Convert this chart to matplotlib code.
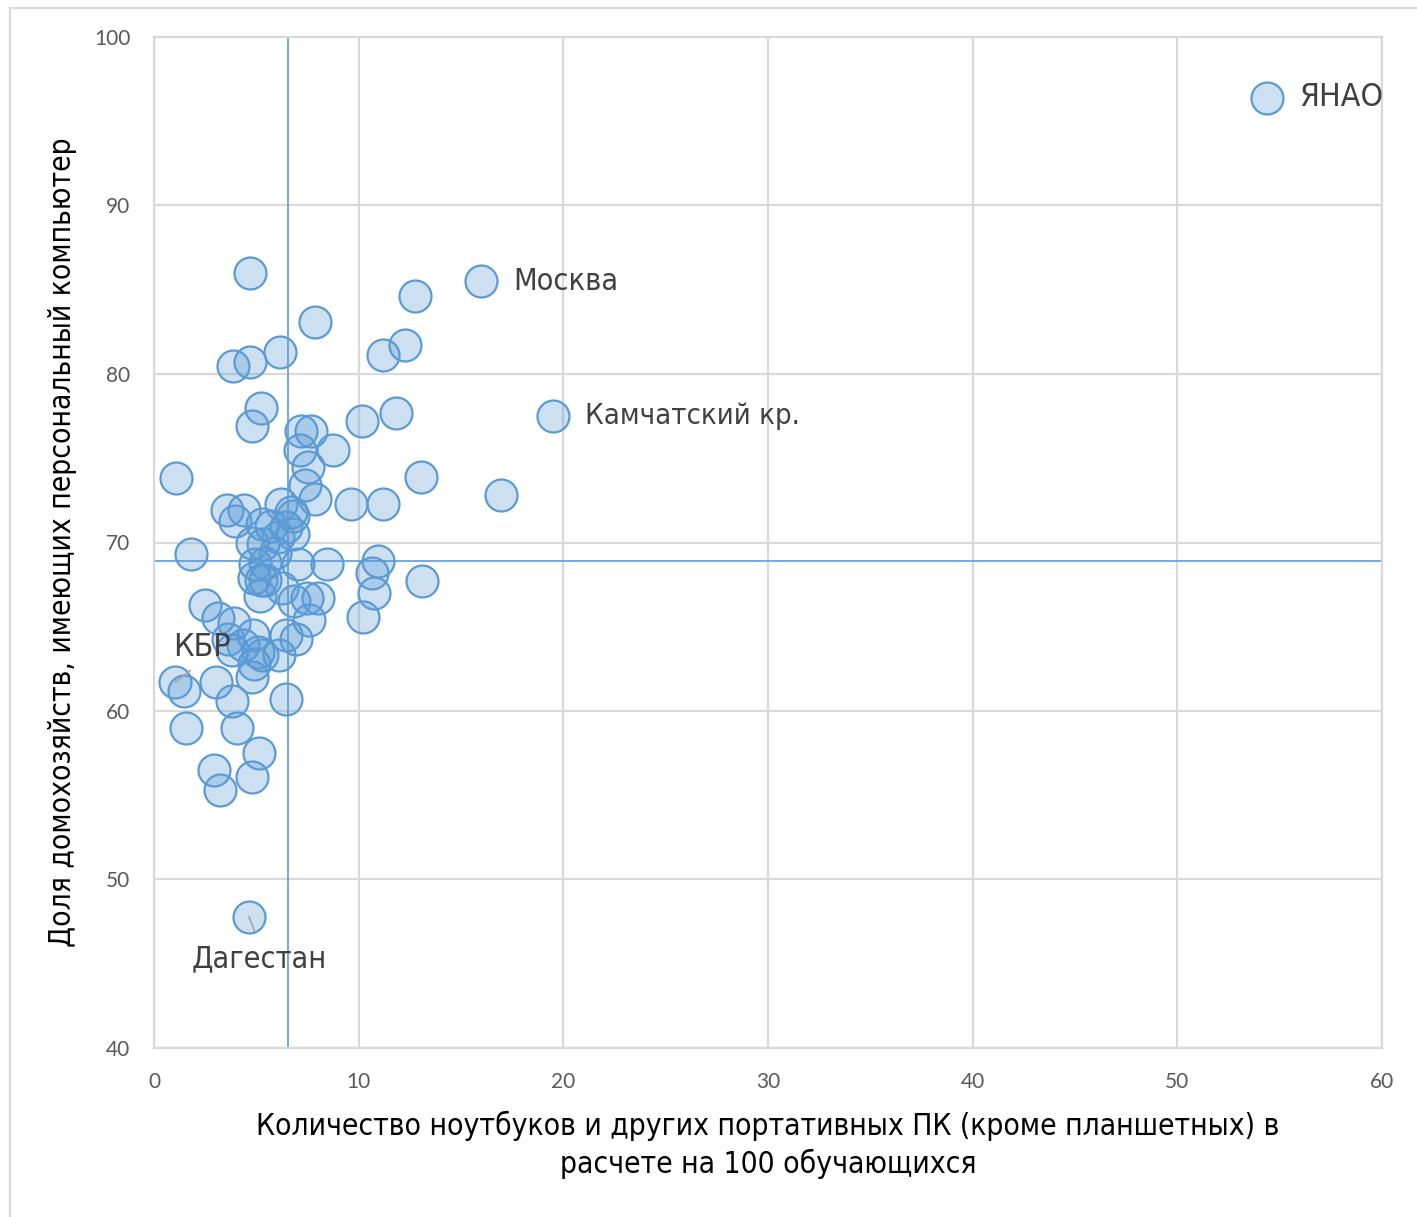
import matplotlib
matplotlib.use("Agg")
import matplotlib.pyplot as plt
from matplotlib.patches import Rectangle
from matplotlib import font_manager

# Laptops per 100 students (x) vs share of households with PC (y)
x_vals = [54.4, 16.0, 19.5, 4.69, 12.75, 7.87, 12.26, 11.19, 6.16, 3.86,
          4.69, 11.82, 10.16, 5.23, 4.79, 7.18, 7.67, 8.74, 7.13, 7.52,
          1.07, 13.04, 16.95, 7.38, 7.87, 9.62, 11.19, 3.57, 4.40, 6.20,
          6.69, 6.79, 3.96, 5.28, 5.72, 6.45, 6.06, 6.79, 4.79, 5.33,
          1.81, 5.91, 4.93, 5.42, 7.03, 8.45, 10.94, 10.65, 4.89, 5.23,
          5.42, 6.25, 13.09, 5.18, 10.75, 6.84, 7.47, 7.99, 2.49, 7.57,
          10.21, 3.13, 3.91, 3.62, 4.84, 6.45, 6.94, 3.81, 4.35, 5.08,
          5.28, 6.11, 4.89, 4.79, 1.03, 1.47, 3.03, 3.81, 6.45, 1.56,
          4.05, 5.13, 2.93, 4.79, 3.22, 4.64]
y_vals = [96.4, 85.5, 77.5, 86.0, 84.6, 83.1, 81.7, 81.1, 81.3, 80.5,
          80.7, 77.7, 77.2, 78.0, 76.9, 76.6, 76.6, 75.5, 75.5, 74.5,
          73.8, 73.9, 72.8, 73.4, 72.6, 72.3, 72.3, 71.9, 71.9, 72.3,
          71.8, 71.6, 71.3, 71.1, 71.0, 70.9, 70.3, 70.5, 70.0, 69.9,
          69.3, 69.4, 68.7, 68.8, 68.7, 68.7, 68.9, 68.2, 67.9, 67.8,
          67.8, 67.3, 67.7, 66.8, 67.0, 66.5, 66.7, 66.7, 66.3, 65.4,
          65.6, 65.5, 65.2, 64.3, 64.5, 64.5, 64.3, 63.6, 63.9, 63.5,
          63.3, 63.3, 62.8, 62.0, 61.7, 61.2, 61.7, 60.6, 60.7, 59.0,
          59.0, 57.5, 56.5, 56.1, 55.3, 47.8]

mean_x = 6.55
mean_y = 68.9

x_ticks = [0, 10, 20, 30, 40, 50, 60]
y_ticks = [40, 50, 60, 70, 80, 90, 100]

x_label = "Количество ноутбуков и других портативных ПК (кроме планшетных) в\nрасчете на 100 обучающихся"
y_label = "Доля домохозяйств, имеющих персональный компьютер"

# pick a condensed font file if available
cond_path = None
for f in font_manager.findSystemFonts():
    name = f.split("/")[-1]
    if name in ("LiberationSansNarrow-Regular.ttf", "DejaVuSansCondensed.ttf"):
        cond_path = f
        if name.startswith("Liberation"):
            break
if cond_path:
    font_manager.fontManager.addfont(cond_path)
    cond_name = font_manager.FontProperties(fname=cond_path).get_name()
    label_font = [cond_name, "DejaVu Sans"]
    label_stretch = "condensed" if "DejaVu" in cond_name else "normal"
else:
    label_font = ["DejaVu Sans"]
    label_stretch = "condensed"
tick_font = ["Lato", "DejaVu Sans"]

fig = plt.figure(figsize=(14.17, 12.17), dpi=100)
fig.patches.append(Rectangle((10 / 1417, -0.05), 1.2, 1 - 8 / 1217 + 0.05,
                             transform=fig.transFigure, fill=False,
                             edgecolor="#d9d9d9", linewidth=1.5, zorder=0))
ax = fig.add_axes([154 / 1417, 1 - 1048 / 1217, (1382 - 154) / 1417, (1048 - 37) / 1217])

ax.set_xlim(0, 60)
ax.set_ylim(40, 100)
ax.set_xticks(x_ticks)
ax.set_yticks(y_ticks)
ax.grid(True, color="#d9d9d9", linewidth=1.6, zorder=0)
ax.set_axisbelow(True)
for s in ax.spines.values():
    s.set_color("#d9d9d9")
    s.set_linewidth(1.6)
ax.tick_params(length=0, pad=17, labelsize=15, labelcolor="#595959")
for lbl in ax.get_xticklabels() + ax.get_yticklabels():
    lbl.set_family(tick_font)

ax.axvline(mean_x, color="#5b9bd5", linewidth=1.2, zorder=1)
ax.axhline(mean_y, color="#5b9bd5", linewidth=1.2, zorder=1)

ax.scatter(x_vals, y_vals, s=530, facecolors=(0.357, 0.608, 0.835, 0.3),
           edgecolors="#5b9bd5", linewidths=1.6, zorder=3)

ann_color = "#404040"
tkw = dict(family=label_font, fontstretch=label_stretch,
           color=ann_color, va="center", ha="left", zorder=5)
ax.text(x_vals[0] + 1.55, y_vals[0], "ЯНАО", fontsize=23, **tkw)
ax.text(x_vals[1] + 1.55, y_vals[1], "Москва", fontsize=22, **tkw)
ax.text(x_vals[2] + 1.55, y_vals[2], "Камчатский кр.", fontsize=21, **tkw)
ax.annotate("КБР", xy=(x_vals[74], y_vals[74]), xytext=(0.95, 63.75), fontsize=23,
            arrowprops=dict(arrowstyle="-", color="#a6a6a6", linewidth=1.2,
                            relpos=(0.45, 0.0), shrinkA=5, shrinkB=0), **tkw)
ax.annotate("Дагестан", xy=(x_vals[85], y_vals[85]), xytext=(1.85, 45.3), fontsize=22,
            arrowprops=dict(arrowstyle="-", color="#a6a6a6", linewidth=1.2,
                            relpos=(0.5, 1.0), shrinkA=8, shrinkB=0), **tkw)

ax.set_xlabel(x_label, fontsize=21.5, family=label_font, fontstretch=label_stretch,
              color="black", labelpad=14, linespacing=1.3)
ax.set_ylabel(y_label, fontsize=21.5, family=label_font, fontstretch=label_stretch,
              color="black", labelpad=12)

fig.savefig("out.png", dpi=100)
